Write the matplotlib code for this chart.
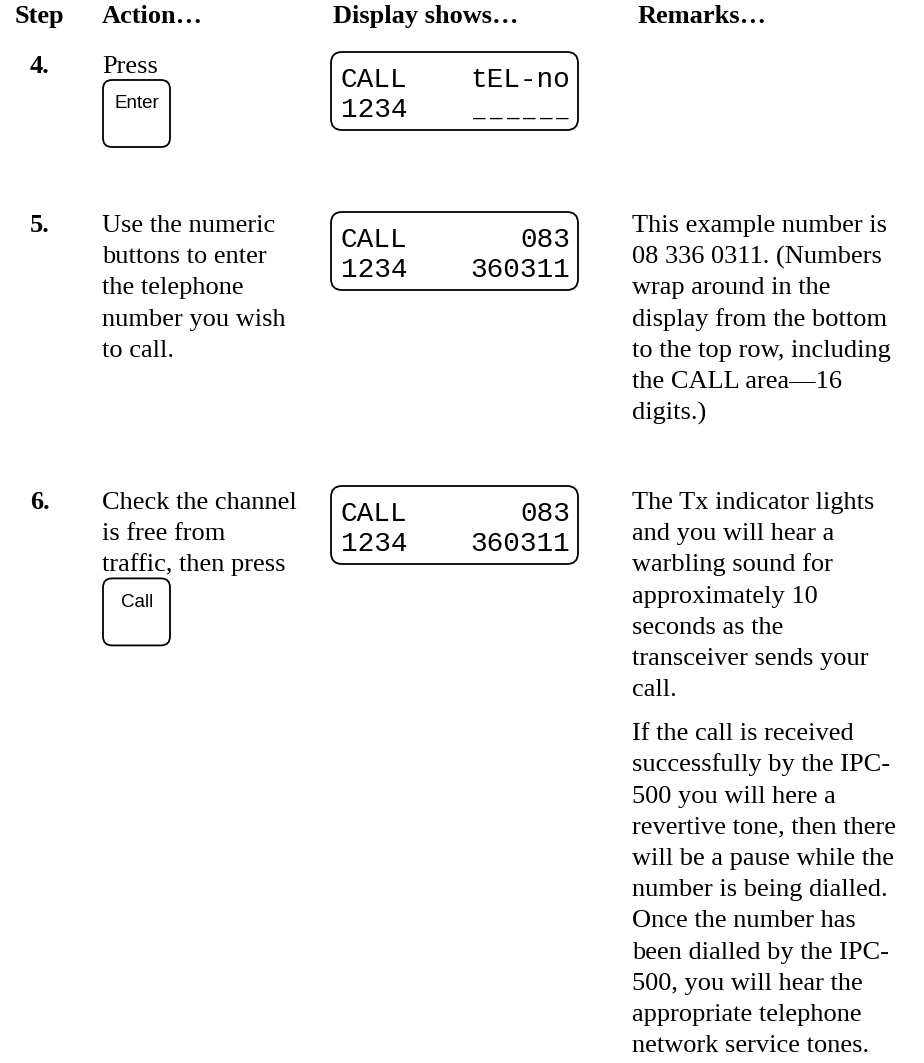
import matplotlib
matplotlib.use("Agg")
import matplotlib.pyplot as plt
from matplotlib.patches import FancyBboxPatch

# ---- content ----
headers = ["Step", "Action…", "Display shows…", "Remarks…"]
step_numbers = ["4.", "5.", "6."]
action_lines = [
    ["Press"],
    ["Use the numeric", "buttons to enter", "the telephone", "number you wish", "to call."],
    ["Check the channel", "is free from", "traffic, then press"],
]
button_labels = ["Enter", None, "Call"]
lcd_row1_left = ["CALL", "CALL", "CALL"]
lcd_row1_right = ["tEL-no", "083", "083"]
lcd_row2_left = ["1234", "1234", "1234"]
lcd_row2_right = ["______", "360311", "360311"]
remark_paragraphs = [
    [],
    [["This example number is", "08 336 0311. (Numbers", "wrap around in the",
      "display from the bottom", "to the top row, including",
      "the CALL area—16", "digits.)"]],
    [["The Tx indicator lights", "and you will hear a", "warbling sound for",
      "approximately 10", "seconds as the", "transceiver sends your", "call."],
     ["If the call is received", "successfully by the IPC-", "500 you will here a",
      "revertive tone, then there", "will be a pause while the",
      "number is being dialled.", "Once the number has",
      "been dialled by the IPC-", "500, you will hear the",
      "appropriate telephone", "network service tones."]],
]

# ---- layout (pixels, top-left origin) ----
W, H = 924, 1063
row_baselines = [73, 232, 509]
box_tops = [52, 212, 486]
LINE = 31.2
PARA_GAP = 44
X_STEP, X_ACTION, X_DISPLAY, X_REMARK = 30, 102, 331, 632
HEADER_X = [15, 102, 333, 638]
SERIF = "Liberation Serif"
FS = 19
LCD_PITCH = 16.6

fig = plt.figure(figsize=(W / 100, H / 100), dpi=100)
ax = fig.add_axes([0, 0, 1, 1])
ax.set_xlim(0, W)
ax.set_ylim(H, 0)
ax.axis("off")

for x, h in zip(HEADER_X, headers):
    ax.text(x, 23, h, family=SERIF, fontsize=FS, fontweight="bold", va="baseline", ha="left")

lcd = dict(family="Liberation Mono", fontsize=20, va="baseline")


def lcd_right(text, y):
    if set(text) == {"_"}:
        # separated dashes like the segment display
        n = len(text)
        for k, ch in enumerate(text):
            xc = 570 - (n - k - 0.5) * LCD_PITCH
            ax.text(xc, y, ch, ha="center", family="Liberation Mono", fontsize=15,
                    va="baseline")
    else:
        ax.text(570, y, text, ha="right", **lcd)


for i, num in enumerate(step_numbers):
    base = row_baselines[i]
    ax.text(X_STEP, base, num, family=SERIF, fontsize=FS, fontweight="bold", va="baseline")
    lines = action_lines[i]
    for j, ln in enumerate(lines):
        ax.text(X_ACTION, base + j * LINE, ln, family=SERIF, fontsize=FS, va="baseline")
    # button
    if button_labels[i]:
        top = base + (len(lines) - 1) * LINE + 7
        btn = FancyBboxPatch((103, top), 67, 67, boxstyle="round,pad=0,rounding_size=9",
                             fc="white", ec="black", lw=1.3)
        ax.add_patch(btn)
        ax.text(137, top + 24, button_labels[i], family="Liberation Sans", fontsize=13.5,
                ha="center", va="center")
    # LCD display
    bt = box_tops[i]
    box = FancyBboxPatch((X_DISPLAY, bt), 247, 78, boxstyle="round,pad=0,rounding_size=11",
                         fc="white", ec="black", lw=1.3)
    ax.add_patch(box)
    ax.text(341, bt + 35, lcd_row1_left[i], ha="left", **lcd)
    lcd_right(lcd_row1_right[i], bt + 35)
    ax.text(341, bt + 65, lcd_row2_left[i], ha="left", **lcd)
    lcd_right(lcd_row2_right[i], bt + 65)
    # remarks
    y = base
    for p, para in enumerate(remark_paragraphs[i]):
        if p > 0:
            y += PARA_GAP - LINE
        for ln in para:
            ax.text(X_REMARK, y, ln, family=SERIF, fontsize=FS, va="baseline")
            y += LINE

fig.savefig("out.png", dpi=100, facecolor="white")
